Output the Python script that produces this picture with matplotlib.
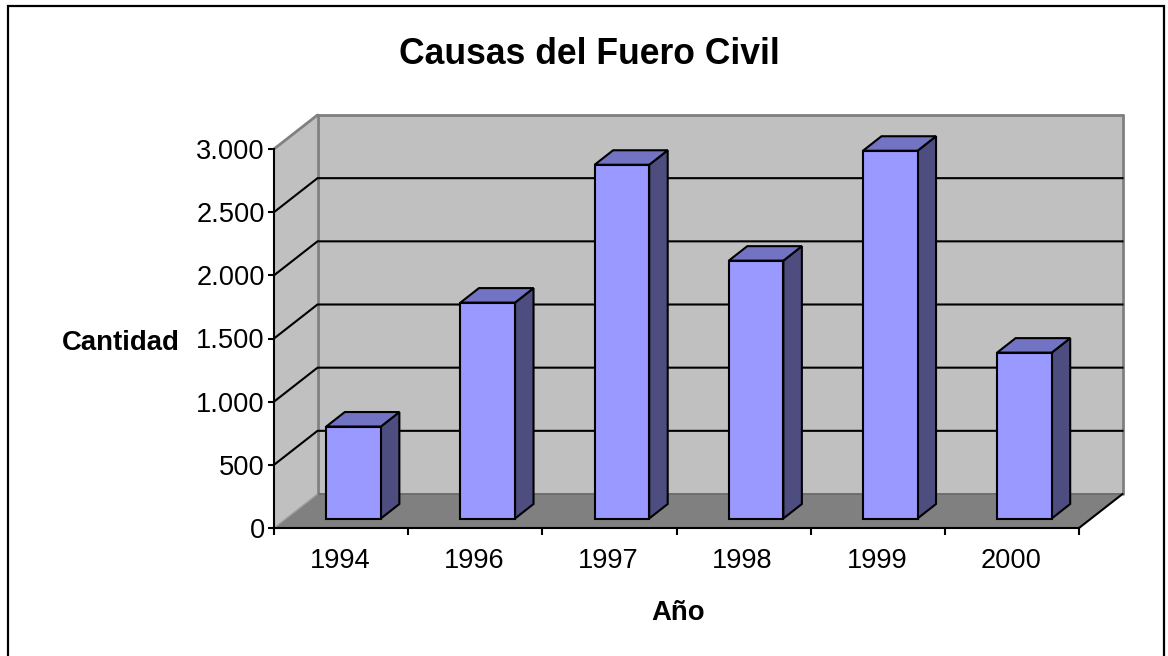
"""Causas del Fuero Civil: fake 3D column chart."""

import matplotlib
matplotlib.use("Agg")
import matplotlib.pyplot as plt
from matplotlib.patches import Polygon

years = ["1994", "1996", "1997", "1998", "1999", "2000"]
causas = [728, 1709, 2800, 2041, 2911, 1313]
y_ticks = [0, 500, 1000, 1500, 2000, 2500, 3000]
y_labels = ["0", "500", "1.000", "1.500", "2.000", "2.500", "3.000"]

plt.rcParams["font.family"] = ["Liberation Sans", "DejaVu Sans"]

W, H = 1168, 656
fig = plt.figure(figsize=(W / 100, H / 100), dpi=100, facecolor="white")

# chart frame: inset from the image edge and open at the bottom
frame_l, frame_r, frame_t = 8, 1164, 5.5
fig.add_artist(plt.Line2D([frame_l, frame_l, frame_r, frame_r],
                          [0, H - frame_t, H - frame_t, 0],
                          color="black", lw=1.6, transform=None,
                          solid_joinstyle="miter"))

ax = fig.add_axes([274 / W, 1 - 528 / H, 805 / W, 379 / H])
ax.set_xlim(0, len(years))
ax.set_ylim(0, 3000)
ax.patch.set_visible(False)


def quad(points, color, z, lw=0.0, edge="black"):
    ax.add_patch(Polygon(points, closed=True, facecolor=color, edgecolor=edge,
                         linewidth=lw, transform=None, zorder=z, clip_on=False,
                         joinstyle="miter"))


def seg(a, b, color, lw, z):
    ax.plot([a[0], b[0]], [a[1], b[1]], color=color, lw=lw, transform=None,
            zorder=z, clip_on=False, solid_capstyle="round")


fig.canvas.draw()
DX, DY = 43.5, 34
to_px = ax.transData.transform
x0, x1 = 0, len(years)
p00, p10 = to_px((x0, 0)), to_px((x1, 0))
p01, p11 = to_px((x0, 3000)), to_px((x1, 3000))

# walls and floor
quad([p00, p00 + (DX, DY), p01 + (DX, DY), p01], "#c0c0c0", 1)
quad([p00 + (DX, DY), p10 + (DX, DY), p11 + (DX, DY), p01 + (DX, DY)], "#c0c0c0", 1)
quad([p00, p10, p10 + (DX, DY), p00 + (DX, DY)], "#808080", 2)
seg(p01, p01 + (DX, DY), "#808080", 2.0, 2)
seg(p01 + (DX, DY), p11 + (DX, DY), "#808080", 2.0, 2)
seg(p00 + (DX, DY), p01 + (DX, DY), "#808080", 2.0, 2)
seg(p10 + (DX, DY), p11 + (DX, DY), "#808080", 2.0, 2)
seg(p00 + (DX, DY), p10 + (DX, DY), "#6e6e6e", 1.4, 3)
seg(p00, p00 + (DX, DY), "#a0a0a0", 1.0, 3)

# grid lines run along the side wall and then the back wall
for v in y_ticks[1:-1]:
    p = to_px((x0, v))
    q = to_px((x1, v))
    ax.plot([p[0], p[0] + DX, q[0] + DX], [p[1], p[1] + DY, q[1] + DY], color="black",
            lw=1.5, transform=None, zorder=3, clip_on=False, solid_joinstyle="miter")

# columns
bar_w = 54.5 / 134
front = (12.5, 9.5)
depth = (18.5, 14.5)
for i, v in enumerate(causas):
    left = i + 0.5 - bar_w / 2
    bl = to_px((left, 0)) + front
    br = to_px((left + bar_w, 0)) + front
    tl = to_px((left, v)) + front
    tr = to_px((left + bar_w, v)) + front
    quad([br, br + depth, tr + depth, tr], "#4d4d80", 5, 1.5)
    quad([tl, tr, tr + depth, tl + depth], "#7373c4", 5, 1.5)
    quad([bl, br, tr, tl], "#9999ff", 6, 1.5)

for s in ["top", "right"]:
    ax.spines[s].set_visible(False)
for s in ["left", "bottom"]:
    ax.spines[s].set_linewidth(1.5)
    ax.spines[s].set_zorder(4)

ax.set_xticks(range(len(years) + 1))
ax.set_xticklabels([])
for i, y in enumerate(years):
    ax.annotate(y, (i + 0.5, 0), xytext=(-1, -33), textcoords="offset pixels",
                ha="center", va="center", fontsize=19.6)
ax.set_yticks(y_ticks)
ax.set_yticklabels(y_labels, fontsize=19.6)
ax.tick_params(axis="x", direction="out", length=5, width=1.5)
ax.tick_params(axis="y", direction="out", length=4.5, width=1.5, pad=2)

# edge of the floor on the right
seg(p10, p10 + (DX, DY), "black", 1.5, 4)

fig.text(589 / W, 1 - 54 / H, "Causas del Fuero Civil", ha="center", va="center",
         fontsize=25.6, fontweight="bold")
fig.text(121 / W, 1 - 343 / H, "Cantidad", ha="center", va="center",
         fontsize=19.8, fontweight="bold")
fig.text(678 / W, 1 - 613 / H, "Año", ha="center", va="center",
         fontsize=19.8, fontweight="bold")

fig.savefig("out.png", dpi=100)
